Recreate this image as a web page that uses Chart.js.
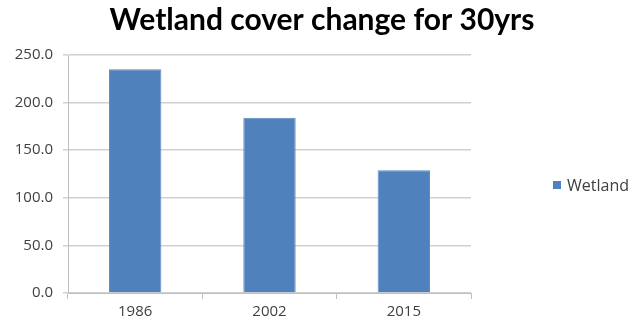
<!DOCTYPE html>
<html>
<head>
<meta charset="utf-8">
<script src="https://cdn.jsdelivr.net/npm/chart.js@4.4.0/dist/chart.umd.min.js"></script>
<style>
  body { margin: 0; background: #fff; }
  #wrap { position: relative; width: 644px; height: 324px; }
  #legend {
    position: absolute; left: 553px; top: 174px;
    font: 16px "Open Sans", sans-serif; color: #404040;
    display: flex; align-items: center;
  }
  #legend span.box { width: 8px; height: 8px; background: #4F81BD; margin-right: 6px; display: inline-block; }
</style>
</head>
<body>
<div id="wrap">
  <canvas id="chartCanvas" width="644" height="324"></canvas>
  <div id="legend"><span class="box"></span><span id="legendText"></span></div>
</div>
<script>
// datos
const years = ['1986', '2002', '2015'];
const wetland = [235, 184, 129];
const yTicks = [0, 50, 100, 150, 200, 250];
const seriesName = 'Wetland';
const chartTitle = 'Wetland cover change for 30yrs';

document.getElementById('legendText').textContent = seriesName;

const gridGray = '#d0d0d0';
const ctx = document.getElementById('chartCanvas').getContext('2d');
const barChart = new Chart(ctx, {
    type: 'bar',
    data: {
        labels: years,
        datasets: [{
            label: seriesName,
            data: wetland,
            backgroundColor: '#4F81BD',
            borderColor: '#5a8cc6',
            borderWidth: 1,
            barPercentage: 0.39,
            categoryPercentage: 1
        }]
    },
    options: {
        responsive: false,
        animation: false,
        layout: { padding: 0 },
        plugins: {
            legend: { display: false },
            tooltip: { enabled: false },
            title: {
                display: true,
                text: chartTitle,
                color: '#000',
                font: { family: 'Lato', size: 30, weight: 'bold' },
                padding: { top: 2, bottom: 17 }
            }
        },
        scales: {
            x: {
                afterFit: s => { s.height = 31; },
                grid: { display: true, offset: true, drawOnChartArea: false, drawTicks: true, tickLength: 6, color: '#bfbfbf' },
                border: { color: '#bfbfbf' },
                ticks: { color: '#404040', font: { family: 'Open Sans', size: 15 }, padding: 4 }
            },
            y: {
                min: 0,
                max: 250,
                afterFit: s => { s.width = 68; },
                afterBuildTicks: s => { s.ticks = yTicks.map(v => ({ value: v })); },
                grid: { color: gridGray, lineWidth: 1.5, tickLength: 5 },
                border: { color: '#bfbfbf' },
                ticks: {
                    color: '#404040',
                    font: { family: 'Open Sans', size: 15 },
                    padding: 10,
                    callback: v => Number(v).toFixed(1)
                }
            },
            // espacio vacío a la derecha para la leyenda
            spacer: {
                type: 'linear',
                position: 'right',
                afterFit: s => { s.width = 173; },
                grid: { display: false },
                border: { display: false },
                ticks: { display: false }
            }
        }
    }
});
</script>
</body>
</html>
